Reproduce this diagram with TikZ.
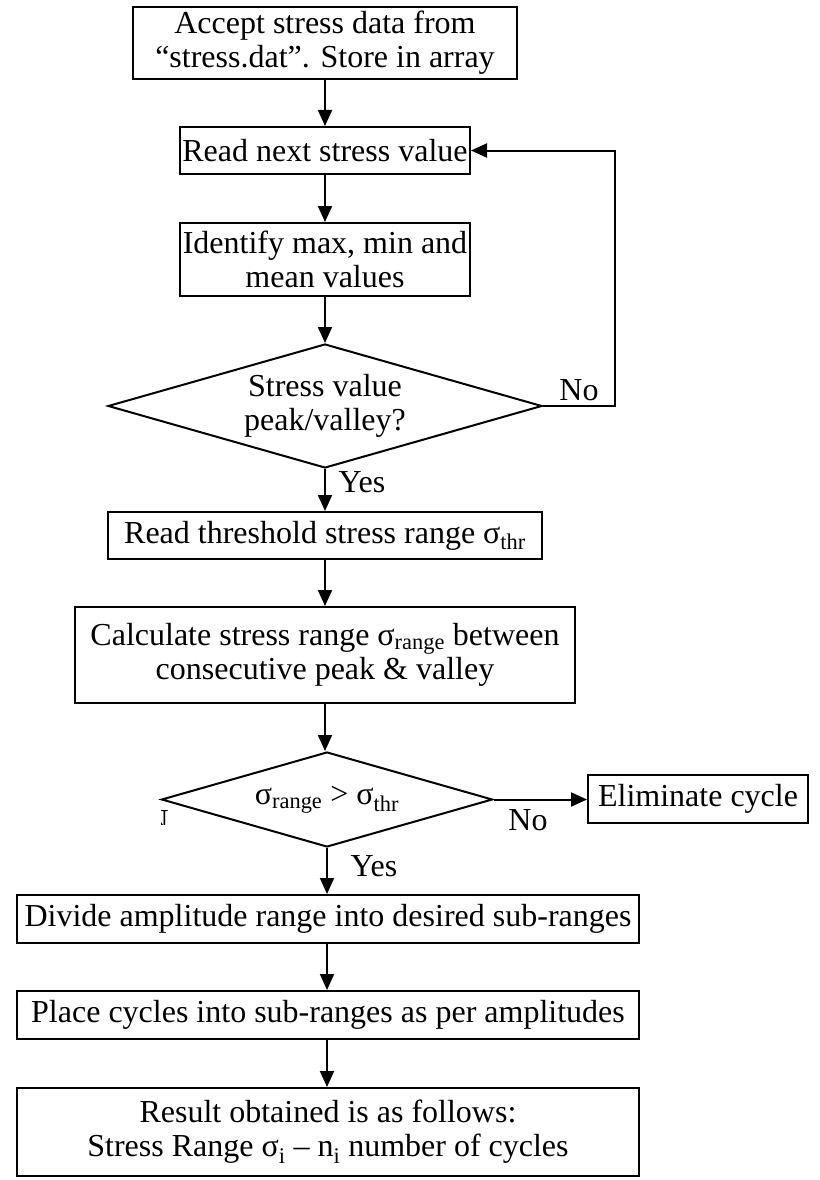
\documentclass[tikz,border=0pt]{standalone}
\usepackage{fontspec}
\setmainfont{Liberation Serif}
\usetikzlibrary{shapes.geometric,arrows.meta}

\tikzset{
  box/.style={draw, line width=2pt, inner sep=0pt, align=center},
  decision/.style={draw, diamond, aspect=3.5, line width=2pt, inner sep=0pt, align=center},
  arr/.style={line width=2pt, -{Triangle[length=16pt,width=14pt]}},
  lbl/.style={inner sep=0pt},
}

\begin{document}
\begin{tikzpicture}[x=1pt,y=-1pt,font=\fontsize{32}{34}\selectfont]
    \useasboundingbox (0,0) rectangle (819,1180);
    \clip (0,0) rectangle (819,1180);
    \node[box, minimum width=384pt, minimum height=72pt] (accept) at (325,43)
      {Accept stress data from\\“stress.dat”. Store in array};
    \node[box, minimum width=290pt, minimum height=47pt] (readnext) at (325,150.5)
      {Read next stress value};
    \node[box, minimum width=290pt, minimum height=73pt] (ident) at (325,259.5)
      {Identify max, min and\\mean values};
    \node[decision, minimum width=434pt, minimum height=124pt] (peak) at (325,406)
      {Stress value\\peak/valley?};
    \node[box, minimum width=434pt, minimum height=47pt] (thresh) at (325,535.5)
      {Read threshold stress range σ\textsubscript{thr}};
    \node[box, minimum width=500pt, minimum height=96pt] (calc) at (325,655)
      {Calculate stress range σ\textsubscript{range} between\\consecutive peak \& valley};
    \node[decision, minimum width=331pt, minimum height=95pt] (cmp) at (327,799.5)
      {σ\textsubscript{range} > σ\textsubscript{thr}};
    \node[box, minimum width=220pt, minimum height=48pt] (elim) at (698,799)
      {Eliminate cycle};
    \node[box, minimum width=622pt, minimum height=48pt] (divide) at (328,919)
      {Divide amplitude range into desired sub-ranges};
    \node[box, minimum width=622pt, minimum height=48pt] (place) at (328,1015)
      {Place cycles into sub-ranges as per amplitudes};
    \node[box, anchor=north, minimum width=622pt, minimum height=88pt] (result) at (328,1087)
      {Result obtained is as follows:\\Stress Range σ\textsubscript{i} – n\textsubscript{i} number of cycles};

    % connectors
    \coordinate (loop) at (615,150.5);
    \draw[arr] (accept.south) -- (readnext.north);
    \draw[arr] (readnext.south) -- (ident.north);
    \draw[arr] (ident.south) -- (peak.north);
    \draw[arr] (peak.east) -| (loop) -- (readnext.east);
    \draw[arr] (peak.south) -- (thresh.north);
    \draw[arr] (thresh.south) -- (calc.north);
    \draw[arr] (calc.south) -- (calc.south |- cmp.north);
    \draw[arr] (cmp.east) -- (cmp.east -| elim.west);
    \draw[arr] (cmp.south) -- (cmp.south |- divide.north);
    \draw[arr] (cmp.south |- divide.south) -- (cmp.south |- place.north);
    \draw[arr] (cmp.south |- place.south) -- (cmp.south |- result.north);

    \node[lbl] (no1) at (579,390) {No};
    \node[lbl] (yes1) at (362,482) {Yes};
    \node[lbl] (no2) at (528,820) {No};
    \node[lbl] (yes2) at (374,866) {Yes};

    % left-over letter under the diamond's left tip
    \begin{scope}
      \clip (161,806) rectangle (169,824);
      \node[lbl, anchor=base east] (nfrag) at (169,831) {N};
    \end{scope}
\end{tikzpicture}
\end{document}
